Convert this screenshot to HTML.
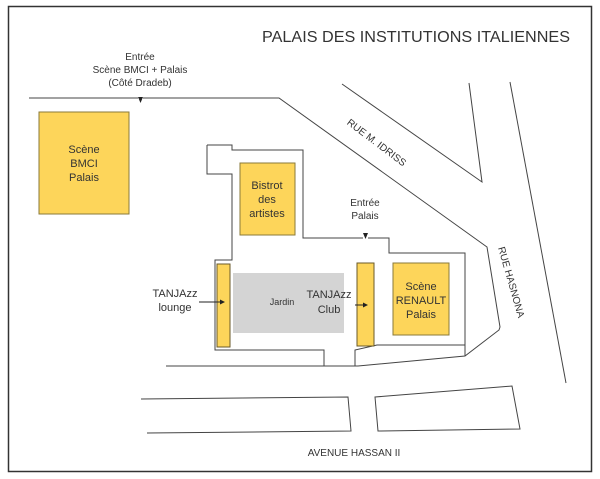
<!DOCTYPE html>
<html><head><meta charset="utf-8"><style>
html,body{margin:0;padding:0;background:#fff}
svg{display:block}
text{font-family:"Liberation Sans",Arial,sans-serif;fill:#333}
</style></head><body>
<svg width="600" height="479" viewBox="0 0 600 479" xmlns="http://www.w3.org/2000/svg">
<rect x="8.5" y="6.5" width="583" height="465" fill="#fff" stroke="#333" stroke-width="1.5"/>
<text x="262" y="42" font-size="16" textLength="308" lengthAdjust="spacingAndGlyphs" fill="#222">PALAIS DES INSTITUTIONS ITALIENNES</text>
<g font-size="10" text-anchor="middle">
<text x="140" y="60">Entrée</text>
<text x="140" y="73">Scène BMCI + Palais</text>
<text x="140" y="86">(Côté Dradeb)</text>
<text x="365" y="206">Entrée</text>
<text x="365" y="219">Palais</text>
</g>
<g fill="none" stroke="#444" stroke-width="1">
<polyline points="29,98 138,98"/>
<polyline points="143,98 279,98 487,247 500,327 499,330 465,356 358,366 166,366"/>
<polyline points="342,84 482,182 469,83"/>
<polyline points="510,82 566,383"/>
<polyline points="207,145 232,145 232,150 303,150 303,238 363,238"/>
<polyline points="368,238 389,238 389,253 465,253 465,356"/>
<polyline points="207,145 207,174 232,174 232,260 215,260 215,350 324,350 324,366"/>
<polyline points="355,366 355,350 377,345 465,345"/>
<polyline points="141,399 348,397 351,431 147,433"/>
<polygon points="375,397 512,386 520,429 378,431"/>
</g>
<path d="M138,97 h5 l-2.5,6z M363,233 h5 l-2.5,6z" fill="#222"/>
<rect x="39" y="112" width="90" height="102" fill="#fdd55a" stroke="#8a7a3a"/>
<rect x="240" y="163" width="55" height="72" fill="#fdd55a" stroke="#8a7a3a"/>
<rect x="233" y="273" width="111" height="60" fill="#d4d4d4"/>
<rect x="217" y="264" width="13" height="83" fill="#fdd55a" stroke="#6a5a2a"/>
<rect x="357" y="263" width="17" height="83" fill="#fdd55a" stroke="#6a5a2a"/>
<rect x="393" y="263" width="56" height="72" fill="#fdd55a" stroke="#8a7a3a"/>
<g font-size="11" text-anchor="middle">
<text x="84" y="153">Scène</text><text x="84" y="167">BMCI</text><text x="84" y="181">Palais</text>
<text x="267" y="189">Bistrot</text><text x="267" y="203">des</text><text x="267" y="217">artistes</text>
<text x="421" y="290">Scène</text><text x="421" y="304">RENAULT</text><text x="421" y="318">Palais</text>
<text x="175" y="297">TANJAzz</text><text x="175" y="311">lounge</text>
<text x="329" y="298">TANJAzz</text><text x="329" y="313">Club</text>
</g>
<text x="282" y="305" font-size="9" text-anchor="middle" fill="#555">Jardin</text>
<g stroke="#222" stroke-width="1"><line x1="199" y1="302" x2="221" y2="302"/><line x1="355" y1="305" x2="364" y2="305"/></g>
<path d="M225,302 l-5,-2.5 v5z M368,305 l-5,-2.5 v5z" fill="#222"/>
<text x="354" y="456" font-size="10" text-anchor="middle">AVENUE HASSAN II</text>
<text transform="translate(377,142) rotate(37)" font-size="10" text-anchor="middle" dy="4">RUE M. IDRISS</text>
<text transform="translate(512,282) rotate(74)" font-size="10" text-anchor="middle" dy="4">RUE HASNONA</text>
</svg>
</body></html>
